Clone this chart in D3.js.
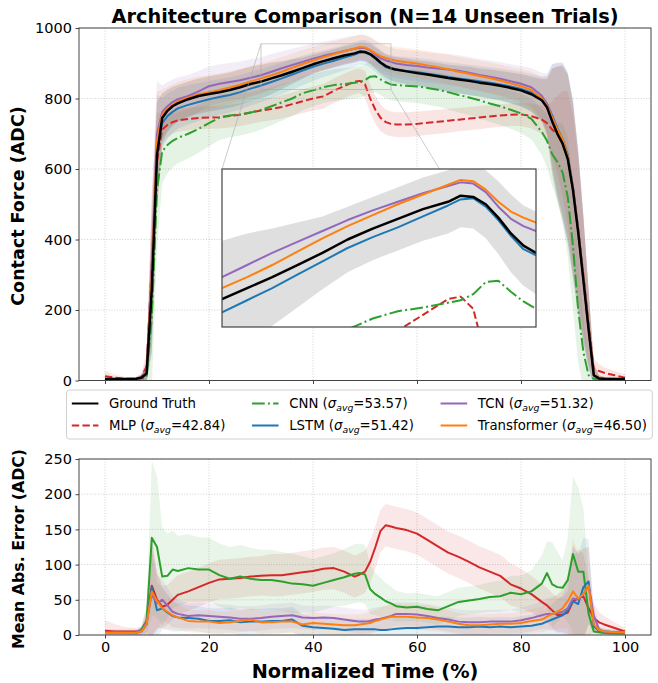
<!DOCTYPE html>
<html>
<head>
<meta charset="utf-8">
<script src="https://cdn.jsdelivr.net/npm/d3@7"></script>
<style>
  body { margin: 0; background: #fff; }
  text { font-family: "DejaVu Sans", sans-serif; }
</style>
</head>
<body>
<div id="chart"></div>
<script>
// ---- data (normalized time %, shared by every series) ----
const time = [0,2,4,6,
  7,8,9,10,11,12,13,14,
  16,18,20,22,24,26,28,30,32,34,36,38,40,42,44,46,48,
  49,50,51,52,53,54,55,56,
  58,60,62,64,66,68,70,72,74,76,78,80,82,84,
  85,86,87,88,89,90,91,92,93,94,95,96,
  98,100];

// contact force (ADC), mean and std across trials
const gtForce = [4,4,4,5,
  8,20,260,640,745,765,778,786,
  798,807,813,818,824,832,841,848,857,866,876,886,897,906,914,922,928,
  933,932,926,915,902,892,886,882,
  877,872,868,863,858,854,850,845,841,836,830,823,812,795,
  775,735,700,672,628,540,420,285,145,15,6,5,
  4,4];
const gtStd = [4,4,4,5,
  8,25,180,150,70,60,55,52,
  50,50,50,50,50,50,49,48,45,40,35,30,27,26,26,26,26,
  26,26,28,30,32,33,34,35,
  36,36,37,38,38,39,40,40,41,42,44,46,50,60,
  80,150,190,220,240,250,230,180,110,30,8,5,
  4,4];

const mlpForce = [12,8,5,5,
  10,40,330,620,712,725,733,738,
  742,745,746,747,750,754,760,766,770,776,784,792,800,806,822,835,848,
  850,840,800,768,745,733,728,726,
  726,728,731,734,737,740,743,746,749,752,754,755,750,740,
  730,712,698,672,630,545,430,300,160,32,27,22,
  15,8];
const mlpStd = [15,8,5,5,
  10,40,200,140,45,35,33,32,
  32,32,32,32,32,32,32,32,32,33,33,34,34,35,35,35,35,
  35,38,40,40,38,36,35,35,
  35,35,34,34,34,33,33,33,32,32,32,33,35,40,
  50,80,110,150,190,210,200,160,100,30,20,15,
  12,10];

const cnnForce = [3,3,3,3,
  4,10,180,540,650,668,680,688,
  700,714,730,746,752,755,760,768,778,789,800,815,823,832,838,841,845,
  847,852,862,863,854,846,840,838,
  836,834,830,825,818,810,803,795,786,778,768,758,742,705,
  680,642,620,590,520,380,200,80,15,5,4,3,
  3,3];
const cnnStd = [3,3,3,3,
  5,20,200,170,90,80,76,72,
  70,68,66,64,62,60,58,56,54,52,50,48,46,45,45,45,45,
  45,45,45,45,45,45,45,45,
  46,47,48,48,49,50,50,51,52,53,54,56,58,65,
  75,90,110,140,170,180,150,100,50,15,5,4,
  3,3];

const lstmForce = [3,3,3,4,
  6,22,270,660,730,750,762,772,
  782,790,798,804,810,818,828,837,847,857,868,879,890,899,907,916,925,
  930,931,924,913,900,889,884,881,
  878,875,870,866,861,857,853,849,845,840,834,827,817,800,
  785,752,715,685,640,550,430,295,150,16,6,5,
  4,4];
const lstmStd = [3,3,3,4,
  6,25,190,150,72,64,60,58,
  56,54,52,51,50,49,48,47,46,45,44,42,40,38,37,36,35,
  35,35,36,37,38,38,39,39,
  40,40,41,41,42,42,43,43,44,45,46,48,52,62,
  80,145,185,215,235,245,225,175,105,30,8,5,
  4,4];

const tcnForce = [4,4,4,5,
  9,30,330,700,762,778,790,798,
  807,820,835,842,847,852,859,866,876,886,895,904,913,921,928,935,941,
  944,943,936,924,914,908,904,899,
  895,892,888,885,882,879,873,867,862,856,849,842,832,808,
  785,748,712,683,632,540,420,285,145,15,6,5,
  4,4];
const tcnStd = [4,4,4,5,
  8,30,200,150,75,68,64,62,
  60,58,56,55,54,53,52,51,50,48,46,44,42,40,39,38,37,
  37,37,38,39,40,40,41,41,
  42,42,43,43,44,44,45,45,46,47,48,50,54,65,
  85,150,190,220,240,250,230,180,110,30,8,5,
  4,4];

const trfForce = [3,3,3,4,
  6,25,300,680,755,772,782,792,
  803,812,818,824,831,839,848,857,866,876,887,898,908,917,926,934,942,
  946,945,938,928,920,915,911,907,
  903,899,894,889,883,876,870,864,858,851,843,835,824,800,
  780,745,712,685,635,545,425,290,150,18,7,5,
  4,4];
const trfStd = [3,3,3,4,
  6,25,190,140,70,60,58,55,
  52,50,48,47,46,45,44,43,42,41,40,39,38,37,36,35,35,
  35,35,36,37,38,38,39,39,
  40,40,41,41,42,42,43,43,44,45,46,48,52,62,
  80,140,180,210,230,240,220,170,100,30,8,5,
  4,4];

// mean absolute error (ADC), mean and std across trials
const mlpErr = [6,5,5,5,
  6,20,70,50,40,43,50,57,
  62,68,74,79,80,81,83,84,85,85,87,89,91,94,95,90,83,
  86,90,104,125,148,156,154,152,
  149,144,135,126,117,111,104,96,90,84,72,66,58,47,
  42,35,28,29,32,48,52,55,38,24,18,15,
  10,5];
const mlpErrStd = [15,10,6,5,
  6,20,70,40,30,28,28,28,
  28,28,28,28,28,28,28,28,30,30,30,30,30,30,30,30,30,
  30,30,30,30,30,30,30,30,
  30,30,30,30,30,30,30,30,30,30,30,28,26,25,
  25,25,25,25,30,60,70,60,40,20,15,12,
  8,5];

const cnnErr = [4,4,3,3,
  8,20,138,125,83,84,93,91,
  95,93,93,85,80,83,80,78,78,76,73,72,70,74,78,82,87,
  88,86,65,58,53,48,45,41,
  39,40,37,35,41,47,49,51,54,55,60,58,62,73,
  88,72,68,67,78,115,90,90,30,5,4,3,
  2,2];
const cnnErrStd = [3,3,3,3,
  5,20,110,100,70,60,55,50,
  48,46,45,45,45,45,44,43,43,42,42,40,38,38,38,40,42,
  42,42,35,30,28,26,24,22,
  20,20,20,20,20,20,20,20,21,22,24,26,30,40,
  45,60,50,40,60,110,120,90,50,8,4,3,
  3,3];

const lstmErr = [3,3,3,3,
  5,15,68,35,38,32,27,25,
  24,23,20,20,21,18,19,19,20,20,22,13,11,10,9,7,8,
  8,8,8,8,7,7,8,9,
  10,10,11,12,12,11,11,12,11,12,11,12,13,16,
  19,22,25,28,35,48,44,68,76,12,6,5,
  4,4];
const lstmErrStd = [3,3,3,3,
  5,12,70,40,30,25,22,20,
  18,18,18,18,18,18,18,18,18,18,18,16,15,15,15,15,15,
  15,15,15,15,15,15,15,15,
  14,14,14,14,14,14,14,14,14,14,14,15,16,18,
  20,22,25,28,40,80,70,70,60,10,5,4,
  3,3];

const tcnErr = [4,4,4,4,
  6,18,58,45,50,42,33,30,
  27,28,27,26,25,23,23,24,26,27,28,25,24,25,24,22,20,
  19,19,20,22,23,25,27,30,
  30,29,27,24,22,19,18,18,19,19,19,21,24,28,
  30,30,31,33,38,52,50,58,70,28,8,5,
  4,4];
const tcnErrStd = [4,4,4,4,
  5,14,60,40,30,25,22,20,
  18,18,18,18,18,18,18,18,18,18,18,17,17,17,17,17,17,
  17,17,17,17,17,17,17,17,
  17,17,17,17,17,17,17,17,17,17,17,18,19,20,
  22,24,26,30,40,75,65,65,55,15,5,4,
  3,3];

const trfErr = [3,3,3,3,
  5,15,62,48,38,33,28,25,
  20,19,19,17,18,20,22,18,18,19,19,15,17,16,15,14,14,
  15,16,17,20,22,24,26,26,
  26,25,24,22,19,16,14,14,15,16,16,17,20,22,
  26,30,33,38,48,62,52,58,70,15,7,5,
  4,4];
const trfErrStd = [3,3,3,3,
  5,12,65,40,28,24,20,18,
  16,16,16,16,16,16,16,16,16,16,16,15,15,15,15,15,15,
  15,15,16,16,17,17,18,18,
  18,18,18,17,16,15,15,15,15,15,15,16,17,18,
  20,22,25,28,40,75,65,65,55,10,5,4,
  3,3];

const modelNames = ["MLP", "CNN", "LSTM", "TCN", "Transformer"];
const sigmaAvg = [42.84, 53.57, 51.42, 51.32, 46.50];
const xTicks = [0, 20, 40, 60, 80, 100];
const forceTicks = [0, 200, 400, 600, 800, 1000];
const errTicks = [0, 50, 100, 150, 200, 250];

// ---- styles ----
const colors = {MLP: "#d62728", CNN: "#2ca02c", LSTM: "#1f77b4", TCN: "#9467bd", Transformer: "#ff7f0e"};
const dashes = {MLP: "7.4,3.2", CNN: "12.8,3.2,2,3.2", LSTM: null, TCN: null, Transformer: null};

const models = [
  {name: "MLP", force: mlpForce, std: mlpStd, err: mlpErr, errStd: mlpErrStd},
  {name: "CNN", force: cnnForce, std: cnnStd, err: cnnErr, errStd: cnnErrStd},
  {name: "LSTM", force: lstmForce, std: lstmStd, err: lstmErr, errStd: lstmErrStd},
  {name: "TCN", force: tcnForce, std: tcnStd, err: tcnErr, errStd: tcnErrStd},
  {name: "Transformer", force: trfForce, std: trfStd, err: trfErr, errStd: trfErrStd}
];
models.forEach(m => { m.sigma = sigmaAvg[modelNames.indexOf(m.name)]; });

const W = 658, H = 683;
const svg = d3.select("#chart").append("svg").attr("width", W).attr("height", H);

const x = d3.scaleLinear().domain([-5, 105]).range([79, 651]);
const yTop = d3.scaleLinear().domain([0, 1000]).range([380.5, 28]);
const yBot = d3.scaleLinear().domain([0, 250]).range([635, 459]);

const defs = svg.append("defs");
function clip(id, x0, y0, w, h) {
  defs.append("clipPath").attr("id", id).append("rect")
    .attr("x", x0).attr("y", y0).attr("width", w).attr("height", h);
}
clip("clipTop", 79, 28, 572, 352.5);
clip("clipBot", 79, 459, 572, 176);

const tickFont = "14.5px";
const labelFont = "19.3px";

function grid(g, y, ticks) {
  const [y1, y0] = y.range();
  g.selectAll(".gx").data(xTicks).enter().append("line")
    .attr("x1", d => x(d)).attr("x2", d => x(d)).attr("y1", y0).attr("y2", y1)
    .attr("stroke", "#c4c4c4").attr("stroke-width", 0.8).attr("stroke-dasharray", "1,1.7");
  g.selectAll(".gy").data(ticks).enter().append("line")
    .attr("x1", 79).attr("x2", 651).attr("y1", d => y(d)).attr("y2", d => y(d))
    .attr("stroke", "#c4c4c4").attr("stroke-width", 0.8).attr("stroke-dasharray", "1,1.7");
}

function axes(y, ticks, showX) {
  const [yb, yt] = y.range();
  const ga = svg.append("g").attr("transform", "translate(79,0)")
    .call(d3.axisLeft(y).tickValues(ticks).tickSize(3.5).tickPadding(3.5).tickFormat(d3.format("d")));
  ga.select(".domain").remove();
  ga.selectAll("text").attr("font-size", tickFont).attr("fill", "#000").attr("font-family", "DejaVu Sans");
  ga.selectAll("line").attr("stroke", "#444");
  const gx = svg.append("g").attr("transform", `translate(0,${yb})`)
    .call(d3.axisBottom(x).tickValues(xTicks).tickSize(3.5).tickPadding(3.5)
      .tickFormat(showX ? d3.format("d") : ""));
  gx.select(".domain").remove();
  gx.selectAll("text").attr("font-size", tickFont).attr("fill", "#000").attr("font-family", "DejaVu Sans");
  gx.selectAll("line").attr("stroke", "#444");
  svg.append("rect").attr("x", 79).attr("y", yt).attr("width", 572).attr("height", yb - yt)
    .attr("fill", "none").attr("stroke", "#444").attr("stroke-width", 1);
}

function band(g, mean, std, y, color, opacity) {
  const area = d3.area()
    .x((d, i) => x(time[i]))
    .y0((d, i) => y(mean[i] - std[i]))
    .y1((d, i) => y(mean[i] + std[i]));
  g.append("path").datum(mean).attr("d", area).attr("fill", color)
    .attr("fill-opacity", opacity).attr("stroke", "none");
}

function line(g, vals, xs, y, color, dash, width) {
  const ln = d3.line().x((d, i) => xs(time[i])).y(d => y(d));
  g.append("path").datum(vals).attr("d", ln).attr("fill", "none")
    .attr("stroke", color).attr("stroke-width", width)
    .attr("stroke-dasharray", dash).attr("stroke-linejoin", "round");
}

// ---- top panel ----
grid(svg.append("g"), yTop, forceTicks);
const pTop = svg.append("g").attr("clip-path", "url(#clipTop)");
band(pTop, gtForce, gtStd, yTop, "#808080", 0.25);
models.forEach(m => band(pTop, m.force, m.std, yTop, colors[m.name], 0.12));
models.forEach(m => line(pTop, m.force, x, yTop, colors[m.name], dashes[m.name], 2));
line(pTop, gtForce, x, yTop, "#000", null, 2.5);

// zoom rectangle + connectors
const zx = [30, 55], zy = [825, 955];
const inset = {x: 222, y: 169, w: 314, h: 158};
svg.append("rect").attr("x", x(zx[0])).attr("y", yTop(zy[1]))
  .attr("width", x(zx[1]) - x(zx[0])).attr("height", yTop(zy[0]) - yTop(zy[1]))
  .attr("fill", "none").attr("stroke", "#aaa").attr("stroke-width", 0.6);
svg.append("line").attr("x1", x(zx[0])).attr("y1", yTop(zy[1])).attr("x2", inset.x).attr("y2", inset.y)
  .attr("stroke", "#aaa").attr("stroke-width", 0.6);
svg.append("line").attr("x1", x(zx[1])).attr("y1", yTop(zy[0])).attr("x2", inset.x + inset.w).attr("y2", inset.y + inset.h)
  .attr("stroke", "#aaa").attr("stroke-width", 0.6);

// inset
const xi = d3.scaleLinear().domain(zx).range([inset.x, inset.x + inset.w]);
const yi = d3.scaleLinear().domain(zy).range([inset.y + inset.h, inset.y]);
clip("clipInset", inset.x, inset.y, inset.w, inset.h);
svg.append("rect").attr("x", inset.x).attr("y", inset.y).attr("width", inset.w).attr("height", inset.h)
  .attr("fill", "#fff");
const gIn = svg.append("g").attr("clip-path", "url(#clipInset)");
gIn.append("path").datum(gtForce).attr("d", d3.area()
    .x((d, i) => xi(time[i])).y0((d, i) => yi(d - gtStd[i])).y1((d, i) => yi(d + gtStd[i])))
  .attr("fill", "#808080").attr("fill-opacity", 0.25);
models.forEach(m => line(gIn, m.force, xi, yi, colors[m.name], dashes[m.name], 2));
line(gIn, gtForce, xi, yi, "#000", null, 2.5);
svg.append("rect").attr("x", inset.x).attr("y", inset.y).attr("width", inset.w).attr("height", inset.h)
  .attr("fill", "none").attr("stroke", "#444").attr("stroke-width", 1.2);

axes(yTop, forceTicks, false);

// ---- bottom panel ----
grid(svg.append("g"), yBot, errTicks);
const pBot = svg.append("g").attr("clip-path", "url(#clipBot)");
models.forEach(m => band(pBot, m.err, m.errStd, yBot, colors[m.name], 0.11));
models.forEach(m => line(pBot, m.err, x, yBot, colors[m.name], null, 2));
axes(yBot, errTicks, true);

// ---- text ----
svg.append("text").attr("x", 365).attr("y", 23).attr("text-anchor", "middle")
  .attr("font-size", labelFont).attr("font-weight", "bold")
  .text("Architecture Comparison (N=14 Unseen Trials)");
svg.append("text").attr("transform", "translate(24,206) rotate(-90)").attr("text-anchor", "middle")
  .attr("font-size", "17.5px").attr("font-weight", "bold").text("Contact Force (ADC)");
svg.append("text").attr("transform", "translate(24,549) rotate(-90)").attr("text-anchor", "middle")
  .attr("font-size", "15.8px").attr("font-weight", "bold").text("Mean Abs. Error (ADC)");
svg.append("text").attr("x", 365).attr("y", 678).attr("text-anchor", "middle")
  .attr("font-size", labelFont).attr("font-weight", "bold").text("Normalized Time (%)");

// ---- legend (3 columns, laid out by measured text width) ----
const fs = 13.3;
const leg = svg.append("g");
const box = leg.append("rect").attr("x", 66.5).attr("y", 390).attr("height", 49).attr("rx", 3)
  .attr("fill", "#fff").attr("fill-opacity", 0.8).attr("stroke", "#d0d0d0").attr("stroke-width", 1);
const entries = [{name: "Ground Truth", color: "#000", dash: null}]
  .concat(models.map(m => ({name: m.name, color: colors[m.name], dash: dashes[m.name], sigma: m.sigma})));
const rowY = [403.5, 425.5];
const fmt = d3.format(".2f");
let colStart = 66.5 + 0.4 * fs;
for (let c = 0; c < 3; c++) {
  let colW = 0;
  entries.slice(c * 2, c * 2 + 2).forEach((e, r) => {
    const cy = rowY[r];
    leg.append("line").attr("x1", colStart).attr("x2", colStart + 2 * fs).attr("y1", cy).attr("y2", cy)
      .attr("stroke", e.color).attr("stroke-width", 2).attr("stroke-dasharray", e.dash);
    const t = leg.append("text").attr("x", colStart + 2.8 * fs).attr("y", cy + 4.6).attr("font-size", fs + "px");
    if (e.sigma === undefined) {
      t.text(e.name);
    } else {
      t.append("tspan").text(e.name + " (");
      t.append("tspan").attr("font-style", "italic").text("σ");
      t.append("tspan").attr("font-style", "italic").attr("font-size", (fs * 0.7) + "px").attr("dy", 2.8).text("avg");
      t.append("tspan").attr("dy", -2.8).text("=" + fmt(e.sigma) + ")");
    }
    colW = Math.max(colW, t.node().getComputedTextLength());
  });
  colStart += 2.8 * fs + colW + (c < 2 ? 2 * fs : 0);
}
box.attr("width", colStart + 0.4 * fs - 66.5);
</script>
</body>
</html>
